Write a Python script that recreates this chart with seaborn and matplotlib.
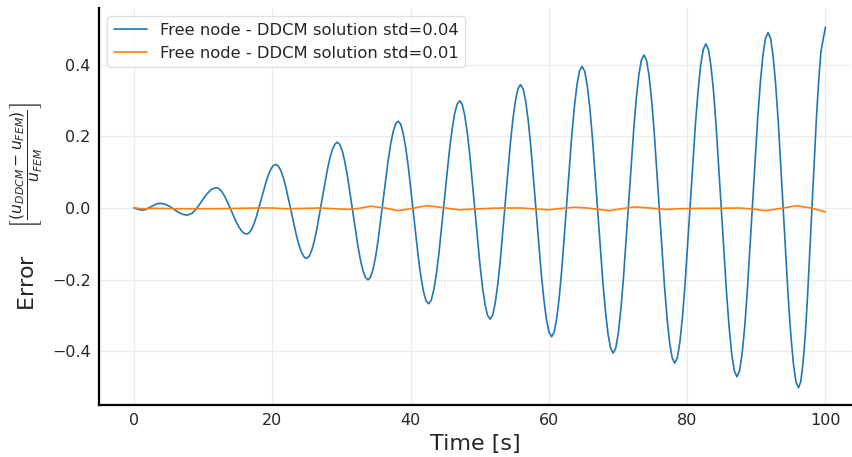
import matplotlib
matplotlib.use("Agg")
import matplotlib.pyplot as plt
import seaborn as sns
import pandas as pd

# Blue series: time [s] and relative error
time_a = [0.0, 0.5, 1.1, 1.55, 2.0, 2.45, 2.9, 3.35, 3.8,
          4.45, 5.1, 5.75, 6.4, 7.05, 7.7,
          8.39, 9.08, 9.78, 10.47, 11.16, 11.85,
          12.22, 12.59, 13.33, 14.08, 14.82, 15.56, 15.93, 16.3,
          16.65, 17.0, 17.7, 18.4, 19.1, 19.8, 20.15, 20.5,
          20.87, 21.24, 21.98, 22.73, 23.47, 24.21, 24.58, 24.95,
          25.32, 25.69, 26.43, 27.18, 27.92, 28.66, 29.03, 29.4,
          29.77, 30.14, 30.88, 31.63, 32.37, 33.11, 33.48, 33.85,
          34.21, 34.58, 35.3, 36.03, 36.75, 37.48, 37.84, 38.2,
          38.57, 38.93, 39.67, 40.4, 41.13, 41.87, 42.23, 42.6,
          42.98, 43.35, 44.1, 44.85, 45.6, 46.35, 46.73, 47.1,
          47.47, 47.83, 48.57, 49.3, 50.03, 50.77, 51.13, 51.5,
          51.87, 52.23, 52.97, 53.7, 54.43, 55.17, 55.53, 55.9,
          56.28, 56.65, 57.4, 58.15, 58.9, 59.65, 60.03, 60.4,
          60.77, 61.13, 61.87, 62.6, 63.33, 64.07, 64.43, 64.8,
          65.18, 65.55, 66.3, 67.05, 67.8, 68.55, 68.93, 69.3,
          69.67, 70.04, 70.78, 71.53, 72.27, 73.01, 73.38, 73.75,
          74.12, 74.49, 75.23, 75.98, 76.72, 77.46, 77.83, 78.2,
          78.58, 78.95, 79.7, 80.45, 81.2, 81.95, 82.33, 82.7,
          83.08, 83.45, 84.2, 84.95, 85.7, 86.45, 86.83, 87.2,
          87.58, 87.95, 88.7, 89.45, 90.2, 90.95, 91.33, 91.7,
          92.07, 92.43, 93.17, 93.9, 94.63, 95.37, 95.73, 96.1,
          96.43, 96.75, 97.4, 98.05, 98.7, 99.35, 100.0]
error_a = [0.000, -0.003, -0.006, -0.005, -0.001, 0.0035, 0.008, 0.012, 0.013,
           0.011, 0.005, -0.0035, -0.0118, -0.0178, -0.020,
           -0.0148, -0.0008, 0.0185, 0.0378, 0.0518, 0.057,
           0.0548, 0.0483, 0.0245, -0.008, -0.0405, -0.0643, -0.0708, -0.073,
           -0.0697, -0.0599, -0.0243, 0.0245, 0.0733, 0.1089, 0.1187, 0.122,
           0.1175, 0.1044, 0.0563, -0.0095, -0.0753, -0.1234, -0.1365, -0.141,
           -0.1355, -0.1192, -0.0598, 0.0215, 0.1028, 0.1622, 0.178, 0.184,
           0.1775, 0.1582, 0.0878, -0.0085, -0.1048, -0.1752, -0.1945, -0.201,
           -0.1935, -0.1713, -0.090, 0.021, 0.132, 0.2133, 0.2355, 0.243,
           0.2343, 0.2088, 0.1153, -0.0125, -0.1403, -0.2338, -0.2593, -0.268,
           -0.2583, -0.2299, -0.126, 0.016, 0.158, 0.2619, 0.2903, 0.300,
           0.2896, 0.2591, 0.1473, -0.0055, -0.1583, -0.2701, -0.3006, -0.311,
           -0.2998, -0.267, -0.147, 0.017, 0.181, 0.301, 0.3338, 0.345,
           0.333, 0.2978, 0.1688, -0.0075, -0.1838, -0.3128, -0.348, -0.360,
           -0.3471, -0.3093, -0.171, 0.018, 0.207, 0.3453, 0.3831, 0.396,
           0.3824, 0.3423, 0.1955, -0.005, -0.2055, -0.3523, -0.3924, -0.406,
           -0.3918, -0.3501, -0.1975, 0.011, 0.2195, 0.3721, 0.4138, 0.428,
           0.4133, 0.3702, 0.2125, -0.003, -0.2185, -0.3762, -0.4193, -0.434,
           -0.4188, -0.3742, -0.2108, 0.0125, 0.2358, 0.3992, 0.4438, 0.459,
           0.4432, 0.3966, 0.2263, -0.0065, -0.2393, -0.4096, -0.4562, -0.472,
           -0.4556, -0.4075, -0.2313, 0.0095, 0.2503, 0.4265, 0.4746, 0.491,
           0.4741, 0.4244, 0.2425, -0.006, -0.2545, -0.4364, -0.4861, -0.503,
           -0.4858, -0.4354, -0.2508, 0.0015, 0.2538, 0.4384, 0.506]

# Extra blue readings between extrema and zero crossings
time_a_more = [12.96, 15.19, 17.35, 19.45, 21.61, 23.84, 26.06, 28.29,
               30.51, 32.74, 34.94, 37.11, 39.3, 41.5, 43.73, 45.98,
               48.2, 50.4, 52.6, 54.8, 57.03, 59.28, 61.5, 63.7,
               65.93, 68.18, 70.41, 72.64, 74.86, 77.09, 79.33, 81.58,
               83.83, 86.08, 88.33, 90.58, 92.8, 95.0, 97.08, 99.03]
error_a_more = [0.038, -0.054, -0.0444, 0.0934, 0.0835, -0.1025, -0.0934, 0.1364,
                0.1276, -0.1446, -0.136, 0.178, 0.1682, -0.1932, -0.1848, 0.2168,
                0.2105, -0.2215, -0.2149, 0.2489, 0.2418, -0.2568, -0.2493, 0.2853,
                0.2785, -0.2885, -0.2839, 0.3059, 0.3018, -0.3078, -0.3032, 0.3282,
                0.3227, -0.3357, -0.331, 0.350, 0.3454, -0.3574, -0.3552, 0.3582]

# Orange series
time_b = [0, 1, 3, 6, 9, 12, 15, 18, 20, 22, 25, 27, 29, 31, 32.5, 34.3,
          36.3, 38.2, 40.3, 42.3, 44.7, 47.0, 50, 53.2, 56, 58.2, 60, 61.8,
          63.8, 65.5, 68.7, 70.5, 72.4, 74.5, 77, 79, 81.5, 84, 87.5, 89.5,
          91.4, 93.6, 95.8, 97.9, 100]
error_b = [0.001, -0.002, -0.001, -0.002, -0.002, -0.002, -0.001, 0.0, 0.0,
           -0.002, -0.001, 0.0, -0.002, -0.004, -0.001, 0.005, 0.0, -0.0075,
           -0.001, 0.0065, 0.001, -0.005, -0.002, 0.0, 0.0, -0.003, -0.005,
           -0.001, 0.002, 0.0, -0.0075, -0.002, 0.003, 0.0, -0.004, -0.002,
           -0.001, -0.001, 0.0, -0.003, -0.0075, -0.001, 0.0065, 0.0, -0.011]

labels = ["Free node - DDCM solution std=0.04",
          "Free node - DDCM solution std=0.01"]
x_ticks = [0, 20, 40, 60, 80, 100]
y_ticks = [-0.4, -0.2, 0.0, 0.2, 0.4]

df = pd.concat([
    pd.DataFrame({"t": time_a + time_a_more, "e": error_a + error_a_more,
                  "s": labels[0]}).sort_values("t"),
    pd.DataFrame({"t": time_b, "e": error_b, "s": labels[1]}),
])

sns.set_theme(style="whitegrid")
plt.rcParams["font.family"] = ["DejaVu Sans"]

fig = plt.figure(figsize=(8.53, 4.57), dpi=100)
ax = fig.add_axes([0.1161, 0.1138, 0.8816, 0.8687])

sns.lineplot(data=df, x="t", y="e", hue="s", ax=ax, sort=False,
             palette=["#1f77b4", "#ff7f0e"], linewidth=1.2, estimator=None)

ax.set_xlim(-5.06, 103.7)
ax.set_ylim(-0.551, 0.5594)
ax.set_xticks(x_ticks)
ax.set_yticks(y_ticks)
ax.tick_params(axis="both", labelsize=11.5, length=3, color="#e5e5e5",
               pad=3, labelcolor="#262626")
ax.grid(True, color="#ebebeb", linewidth=0.9)
for s in ["top", "right"]:
    ax.spines[s].set_visible(False)
for s in ["left", "bottom"]:
    ax.spines[s].set_color("black")
    ax.spines[s].set_linewidth(1.6)

ax.set_xlabel("Time [s]", fontsize=16, labelpad=4, color="#262626")
ax.set_ylabel(r"Error $\quad\left[\frac{(u_{DDCM}-u_{FEM})}{u_{FEM}}\right]$",
              fontsize=16, labelpad=5, color="#262626")

leg = ax.legend(loc="upper left", fontsize=11.8, frameon=True,
                bbox_to_anchor=(0.0, 1.0), borderaxespad=0.5)
leg.get_frame().set_edgecolor("#d9d9d9")
leg.get_frame().set_facecolor("white")
for t in leg.get_texts():
    t.set_color("#262626")

fig.savefig("out.png", dpi=100)
